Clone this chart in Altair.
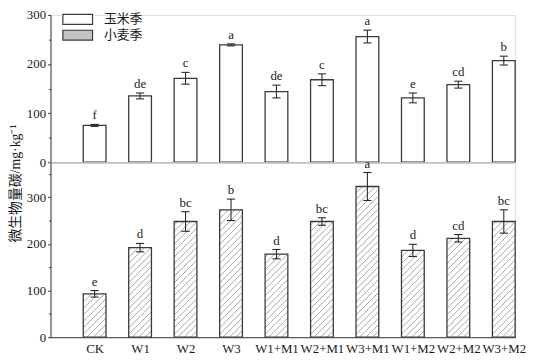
import json
import altair as alt
import pandas as pd

# ---------------- data ----------------
treatments = ["CK", "W1", "W2", "W3", "W1+M1", "W2+M1", "W3+M1", "W1+M2", "W2+M2", "W3+M2"]
maize = [75, 135, 171, 239, 144, 168, 256, 131, 158, 207]
maize_err = [2, 6, 12, 2, 13, 12, 13, 10, 7, 9]
maize_sig = ["f", "de", "c", "a", "de", "c", "a", "e", "cd", "b"]
wheat = [93, 192, 248, 273, 178, 248, 323, 186, 212, 248]
wheat_err = [7, 9, 21, 23, 10, 8, 30, 13, 8, 25]
wheat_sig = ["e", "d", "bc", "b", "d", "bc", "a", "d", "cd", "bc"]
seasons = ["玉米季", "小麦季"]

# ---------------- layout constants ----------------
W = 470
H_TOP = 149
H_BOT = 177
X_DOMAIN = [-0.97, 9.25]
Y_TOP = [0, 300]
Y_BOT = [0, 375]
BAR_HALF = 0.25
CAP_HALF = 0.09
HATCH_STEP = 6.5

px_x = W / (X_DOMAIN[1] - X_DOMAIN[0])
px_y_bot = H_BOT / (Y_BOT[1] - Y_BOT[0])
bw_px = 2 * BAR_HALF * px_x

SERIF = "Liberation Serif"
CJK = "Liberation Serif, Noto Sans CJK SC"
INK = "#3a3a3a"
TXT = "#1a1a1a"


def frame(values, errs, sigs, season):
    return pd.DataFrame({
        "i": list(range(len(treatments))),
        "t": treatments,
        "v": values,
        "e": errs,
        "sig": sigs,
        "season": season,
    })


def base(df):
    return alt.Chart(df).transform_calculate(
        xl=f"datum.i - {BAR_HALF}",
        xr=f"datum.i + {BAR_HALF}",
        cl=f"datum.i - {CAP_HALF}",
        cr=f"datum.i + {CAP_HALF}",
        lo="datum.v - datum.e",
        hi="datum.v + datum.e",
        zero="0",
    )


xscale = alt.Scale(domain=X_DOMAIN, nice=False, zero=False)


def yaxis(top, title=None, title_y=None):
    kw = dict(
        values=list(range(0, top + 1, 50)),
        labelExpr="datum.value % 100 == 0 ? datum.label : ''",
        tickSize={"condition": {"test": "datum.value % 100 != 0", "value": 2}, "value": 3},
        labelPadding=2,
        grid=False,
        labelFont=SERIF,
        labelFontSize=13,
        labelColor=TXT,
        domainColor=INK,
        tickColor=INK,
    )
    if title is not None:
        kw.update(title=title, titleFont=CJK, titleFontSize=14, titleFontWeight="normal",
                  titleColor=TXT, titlePadding=4)
        if title_y is not None:
            kw.update(titleY=title_y)
    else:
        kw.update(title=None)
    return alt.Axis(**kw)


def panel(df, ydom, axis_y, xaxis, hatch):
    b = base(df)
    yq = lambda f: alt.Y(f"{f}:Q", scale=alt.Scale(domain=ydom, nice=False), axis=axis_y)
    layers = []
    if hatch:
        fill = b.mark_rect(fill="white", stroke=None).encode(
            x=alt.X("xl:Q", scale=xscale, axis=xaxis), x2="xr:Q", y=yq("v"), y2="zero:Q")
        lines = alt.Chart(df).transform_calculate(
            hp=f"datum.v * {px_y_bot}",
        ).transform_calculate(
            ks=f"sequence(0, ceil((datum.hp + {bw_px}) / {HATCH_STEP}) + 1)"
        ).transform_flatten(["ks"], as_=["k"]).transform_calculate(
            c=f"datum.k * {HATCH_STEP} - {bw_px}"
        ).transform_calculate(
            u0="max(0, -datum.c)",
            u1=f"min({bw_px}, datum.hp - datum.c)",
        ).transform_filter("datum.u1 > datum.u0").transform_calculate(
            hx=f"datum.i - {BAR_HALF} + datum.u0 / {px_x}",
            hx2=f"datum.i - {BAR_HALF} + datum.u1 / {px_x}",
            hy=f"(datum.u0 + datum.c) / {px_y_bot}",
            hy2=f"(datum.u1 + datum.c) / {px_y_bot}",
        ).mark_rule(color="#9c9c9c", strokeWidth=0.9).encode(
            x=alt.X("hx:Q", scale=xscale, axis=xaxis), x2="hx2:Q",
            y=yq("hy"), y2="hy2:Q")
        outline = b.mark_rect(fill=None, stroke=INK, strokeWidth=1.3).encode(
            x=alt.X("xl:Q", scale=xscale, axis=xaxis), x2="xr:Q", y=yq("v"), y2="zero:Q")
        layers += [fill, lines, outline]
    else:
        bars = b.mark_rect(stroke=INK, strokeWidth=1.3).encode(
            x=alt.X("xl:Q", scale=xscale, axis=xaxis), x2="xr:Q", y=yq("v"), y2="zero:Q",
            color=alt.Color("season:N",
                            scale=alt.Scale(domain=seasons, range=["white", "#c4c4c4"]),
                            legend=alt.Legend(
                                orient="none", legendX=21, legendY=-2, title=None,
                                symbolType="M-3,-1H3V1H-3Z", symbolSize=100,
                                symbolStrokeColor=INK, symbolStrokeWidth=1.2,
                                symbolOpacity=1,
                                labelFont=CJK, labelFontSize=13, labelColor=TXT,
                                labelOffset=20, rowPadding=1, padding=0)))
        layers.append(bars)
    err = b.mark_rule(color="#2a2a2a", strokeWidth=1.1).encode(
        x=alt.X("i:Q", scale=xscale, axis=xaxis), y=yq("lo"), y2="hi:Q")
    cap_hi = b.mark_rule(color="#2a2a2a", strokeWidth=1.1).encode(
        x=alt.X("cl:Q", scale=xscale, axis=xaxis), x2="cr:Q", y=yq("hi"))
    cap_lo = b.mark_rule(color="#2a2a2a", strokeWidth=1.1).encode(
        x=alt.X("cl:Q", scale=xscale, axis=xaxis), x2="cr:Q", y=yq("lo"))
    txt = b.mark_text(baseline="alphabetic", dy=-5, font=SERIF, fontSize=13, color=TXT).encode(
        x=alt.X("i:Q", scale=xscale, axis=xaxis), y=yq("hi"), text="sig:N")
    layers += [err, cap_hi, cap_lo, txt]
    return alt.layer(*layers)


top_xaxis = alt.Axis(labels=False, ticks=False, title=None, grid=False, domainColor=INK)
bot_xaxis = alt.Axis(
    values=list(range(len(treatments))),
    labelExpr=f"{json.dumps(treatments)}[datum.value]",
    ticks=False, title=None, grid=False, labelFont=SERIF, labelFontSize=13,
    labelColor=TXT, labelPadding=5, domainColor=INK, labelFlush=False)

top = panel(frame(maize, maize_err, maize_sig, seasons[0]), Y_TOP, yaxis(300),
            top_xaxis, hatch=False).properties(width=W, height=H_TOP)
bottom = panel(frame(wheat, wheat_err, wheat_sig, seasons[1]), Y_BOT,
               yaxis(350, title="微生物量碳/mg·kg⁻¹", title_y=(H_BOT - H_TOP) / 2 + 7),
               bot_xaxis, hatch=True).properties(width=W, height=H_BOT)

chart = alt.vconcat(top, bottom, spacing=0, bounds="flush").resolve_scale(color="independent").properties(
    padding={"left": 0, "top": -2, "right": 2, "bottom": 0}
).configure_view(stroke=None).configure(background="white")

chart.save("out.html", embed_options={"renderer": "svg", "actions": False})
